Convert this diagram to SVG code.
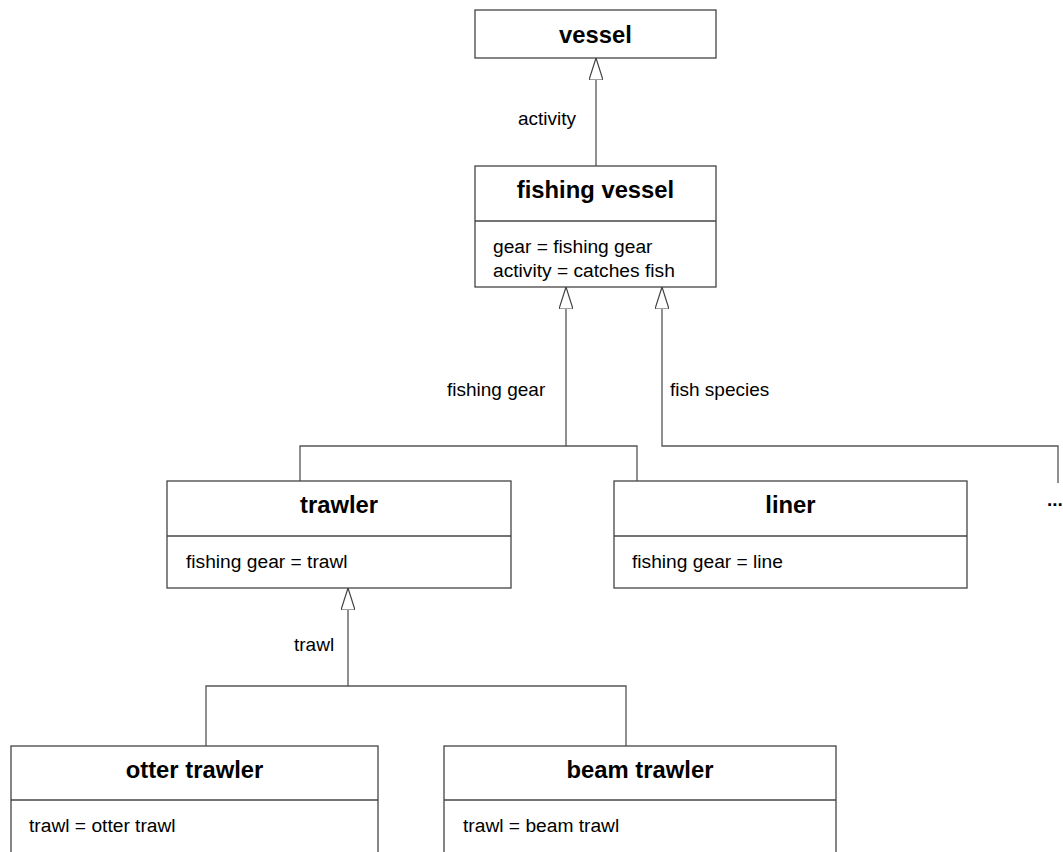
<svg xmlns="http://www.w3.org/2000/svg" width="1063" height="852" viewBox="0 0 1063 852">
<defs>
<style>
.box{fill:#fff;stroke:#444;stroke-width:1.3}
.div{stroke:#444;stroke-width:1.3}
.title{font-family:"Liberation Sans",Arial,sans-serif;font-size:23.8px;font-weight:bold;fill:#000;text-anchor:middle}
.attr{font-family:"Liberation Sans",Arial,sans-serif;font-size:19.2px;fill:#000}
.lbl{font-family:"Liberation Sans",Arial,sans-serif;font-size:19px;fill:#000}
.conn{fill:none;stroke:#555;stroke-width:1.3}
</style>
<marker id="gen" viewBox="0 0 22 14" refX="22" refY="7" markerWidth="22" markerHeight="14" markerUnits="userSpaceOnUse" orient="auto">
<path d="M0,0 L22,7 L0,14 Z" fill="#fff" stroke="#444" stroke-width="1.2"/>
</marker>
</defs>
<rect width="1063" height="852" fill="#fff"/>
<g id="connectors">
<path class="conn" d="M596,166 V58" marker-end="url(#gen)"/>
<path class="conn" d="M300,481 V446 H566 V287" marker-end="url(#gen)"/>
<path class="conn" d="M637,481 V446 H566"/>
<path class="conn" d="M1058,483 V446 H662 V287" marker-end="url(#gen)"/>
<path class="conn" d="M206,746 V686 H348 V588" marker-end="url(#gen)"/>
<path class="conn" d="M626,746 V686 H348"/>
<text class="lbl" x="518" y="125">activity</text>
<text class="lbl" x="447" y="396">fishing gear</text>
<text class="lbl" x="670" y="396">fish species</text>
<text class="lbl" x="294" y="651">trawl</text>
<text class="lbl" x="1047" y="506" font-weight="bold" font-size="22px">...</text>
</g>
<g id="vessel">
<rect class="box" x="475" y="10" width="241" height="48"/>
<text class="title" x="595.5" y="43">vessel</text>
</g>
<g id="fishing-vessel">
<rect class="box" x="475" y="166" width="241" height="121"/>
<line class="div" x1="475" y1="221" x2="716" y2="221"/>
<text class="title" x="595.5" y="198">fishing vessel</text>
<text class="attr" x="493" y="253">gear = fishing gear</text>
<text class="attr" x="493" y="277">activity = catches fish</text>
</g>
<g id="trawler">
<rect class="box" x="167" y="481" width="344" height="107"/>
<line class="div" x1="167" y1="536" x2="511" y2="536"/>
<text class="title" x="339" y="513">trawler</text>
<text class="attr" x="186" y="568">fishing gear = trawl</text>
</g>
<g id="liner">
<rect class="box" x="614" y="481" width="353" height="107"/>
<line class="div" x1="614" y1="536" x2="967" y2="536"/>
<text class="title" x="790.5" y="513">liner</text>
<text class="attr" x="632" y="568">fishing gear = line</text>
</g>
<g id="otter-trawler">
<rect class="box" x="11" y="746" width="367" height="120"/>
<line class="div" x1="11" y1="800" x2="378" y2="800"/>
<text class="title" x="194.5" y="778">otter trawler</text>
<text class="attr" x="29" y="832">trawl = otter trawl</text>
</g>
<g id="beam-trawler">
<rect class="box" x="444" y="746" width="392" height="120"/>
<line class="div" x1="444" y1="800" x2="836" y2="800"/>
<text class="title" x="640" y="778">beam trawler</text>
<text class="attr" x="463" y="832">trawl = beam trawl</text>
</g>
</svg>
